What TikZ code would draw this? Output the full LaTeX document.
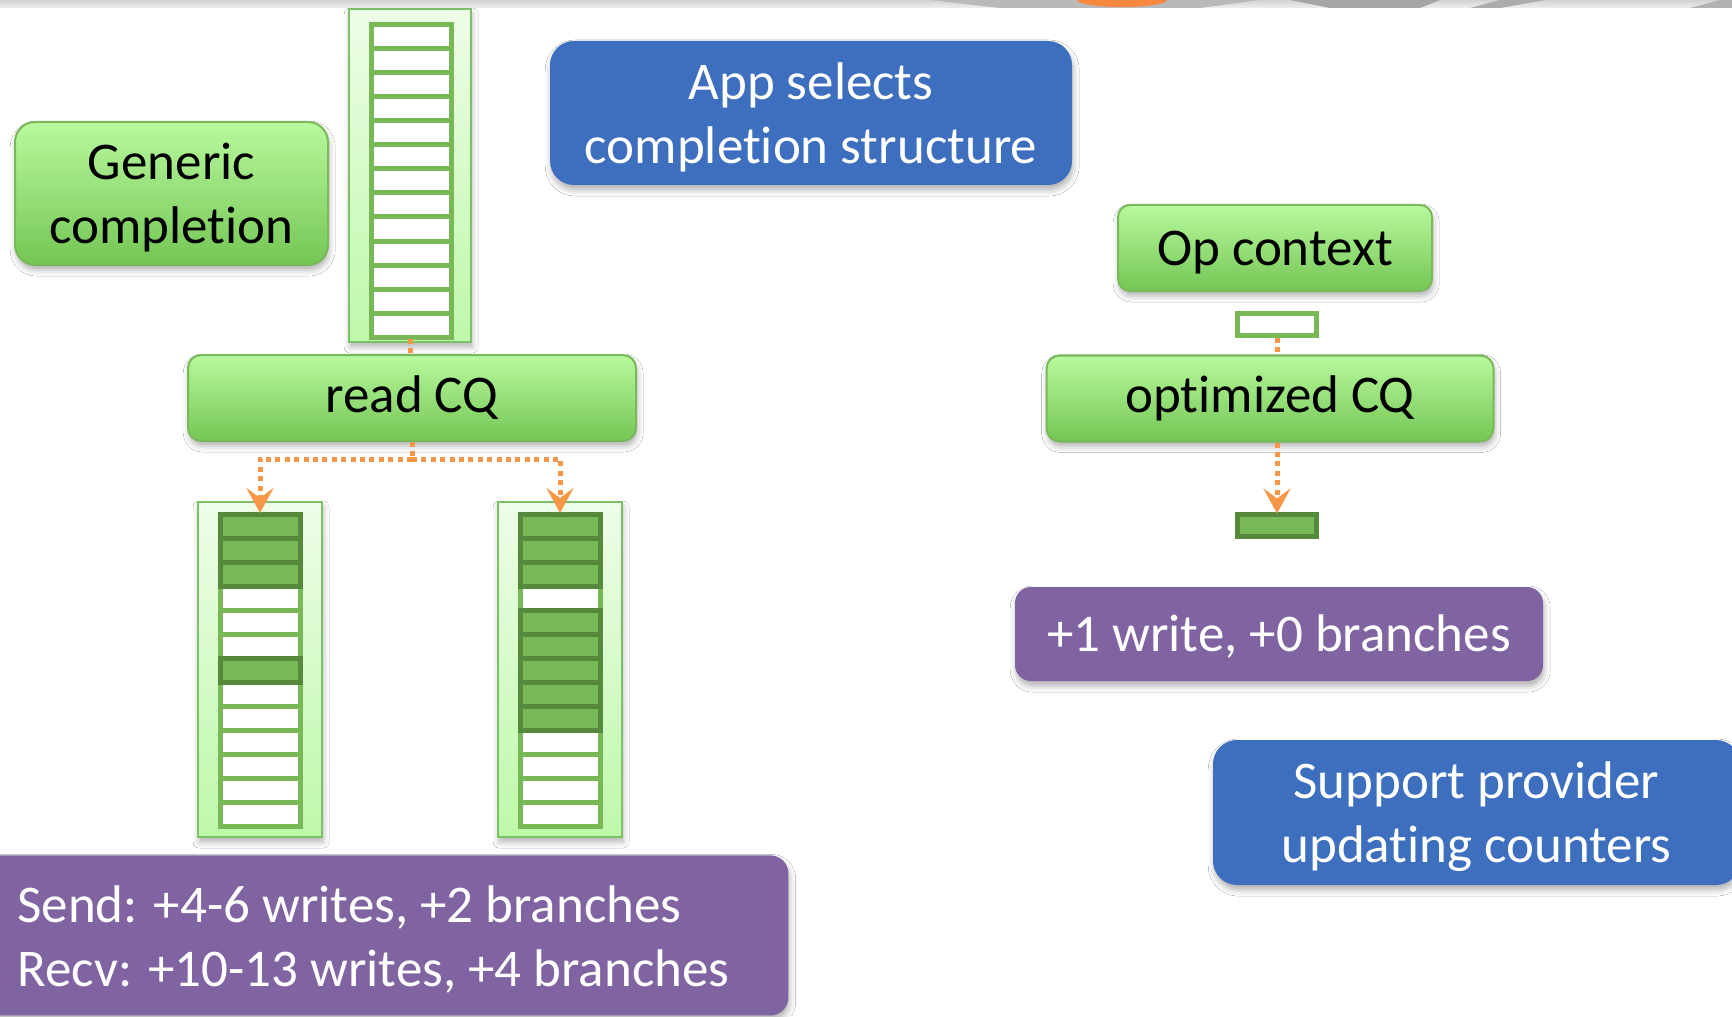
\documentclass[tikz,border=0pt]{standalone}
\usepackage{fontspec}
\setmainfont{Carlito}[Ligatures=NoCommon]
\usetikzlibrary{arrows.meta,shadows.blur}

\definecolor{boxtop}{RGB}{184,249,158}
\definecolor{boxbot}{RGB}{116,198,84}
\definecolor{boxedge}{RGB}{122,184,92}
\definecolor{colTop}{RGB}{238,253,232}
\definecolor{colBot}{RGB}{190,248,170}
\definecolor{colEdge}{RGB}{124,192,104}
\definecolor{slotgreen}{RGB}{121,184,87}
\definecolor{slotdark}{RGB}{85,137,60}
\definecolor{notebl}{RGB}{61,111,190}
\definecolor{costpu}{RGB}{128,100,162}
\definecolor{linkor}{RGB}{247,150,70}

% empty ring of 13 slots: left x, right x, top y (line centres)
\newcommand\cqslots[3]{%
  \fill[white] (#1,#3) rectangle (#2,#3+312);
  \foreach \k in {1,...,12} \draw[slotline] (#1,#3+24*\k) -- (#2,#3+24*\k);
  \draw[slotline] (#1,#3) rectangle (#2,#3+312);
}
% occupied slots #4..#5 of a ring
\newcommand\cqfill[5]{%
  \foreach \k in {#4,...,#5} {
    \fill[slotgreen] (#1,#3+24*\k-24) rectangle (#2,#3+24*\k);
    \draw[slotfull] (#1,#3+24*\k-24) rectangle (#2,#3+24*\k);
  }
}

\tikzset{
  txt/.style={font=\fontsize{26.5}{32}\selectfont},
  lowline/.style={text height=23pt, text depth=5.5pt},
  softshadow/.style={blur shadow={shadow xshift=0.6pt, shadow yshift=-2.5pt,
      shadow blur radius=3pt, shadow opacity=30}},
  greenbox/.style={txt, draw=boxedge, line width=1pt, top color=boxtop,
      bottom color=boxbot, rounded corners=6.5pt, inner sep=0pt,
      align=center, text=black, softshadow},
  bluebox/.style={txt, fill=notebl, rounded corners=12pt, inner sep=0pt,
      align=center, text=white, softshadow},
  purplebox/.style={txt, fill=costpu, rounded corners=8pt, inner sep=0pt,
      text=white, softshadow},
  colbox/.style={draw=colEdge, line width=1pt, top color=colTop,
      bottom color=colBot, inner sep=0pt, softshadow},
  slotline/.style={draw=slotgreen, line width=2.5pt},
  slotfull/.style={draw=slotdark, line width=2.5pt},
  slotempty/.style={fill=white, draw=slotgreen, line width=2.5pt, inner sep=0pt,
      minimum width=39.5pt, minimum height=11pt},
  slotused/.style={fill=slotgreen, draw=slotdark, line width=2.5pt, inner sep=0pt,
      minimum width=39.5pt, minimum height=11pt},
  link/.style={draw=linkor, line width=2.5pt, dash pattern=on 2.5pt off 2.2pt},
  linkarrow/.style={link, -{Stealth[length=12.5pt,width=13.5pt,inset=5pt]}},
}

\begin{document}
\begin{tikzpicture}[x=0.5pt, y=-0.5pt]
\useasboundingbox (0,0) rectangle (1732,1016);
\fill[white] (0,0) rectangle (1732,1016);

% header strip
\begin{scope}
  \clip (0,0) rectangle (1732,8);
  \shade[top color=gray!35, bottom color=gray!12] (0,0) rectangle (1732,8);
  \fill[gray!55] (930,0) -- (1260,0) -- (1200,8) -- (1000,8) -- cycle;
  \fill[linkor!90!red] (1122,0) ellipse (45 and 7);
  \fill[gray!70] (1290,0) -- (1440,0) -- (1420,8) -- (1330,8) -- cycle;
  \fill[gray!65] (1500,0) -- (1545,0) -- (1500,8) -- (1470,8) -- cycle;
  \fill[gray!60] (1720,0) -- (1732,0) -- (1732,8) -- (1690,8) -- cycle;
\end{scope}

% generic completion ring
\node[colbox, minimum width=61pt, minimum height=166.5pt] (ringTop) at (410,175.5) {};
\cqslots{371.5}{451.5}{25}

\node[greenbox, rounded corners=10pt, minimum width=156.5pt, minimum height=71.5pt]
  (generic) at (171.5,193.5) {\strut Generic\\completion};
\node[bluebox, minimum width=261pt, minimum height=72pt]
  (appsel) at (811,113) {\strut App selects\\completion structure};
\node[greenbox, minimum width=224pt, minimum height=43pt]
  (readcq) at (412,398) {read CQ};

% per-queue rings
\node[colbox, minimum width=62pt, minimum height=167.5pt] (ringSend) at (260,669.5) {};
\cqslots{220}{300}{514}
\cqfill{220}{300}{514}{1}{3}
\cqfill{220}{300}{514}{7}{7}

\node[colbox, minimum width=62pt, minimum height=167.5pt] (ringRecv) at (560,669.5) {};
\cqslots{520}{600}{514}
\cqfill{520}{600}{514}{1}{3}
\cqfill{520}{600}{514}{5}{9}

\node[purplebox, anchor=north west, rounded corners=9pt, minimum width=404pt,
  minimum height=80pt] (genericCost) at (-20,855) {};
\node[txt, text=white, anchor=west, align=left, inner sep=0pt]
  (genericCostText) at (17,939) {Send: +4-6 writes, +2 branches\\Recv: +10-13 writes, +4 branches};

% optimized path
\node[greenbox, lowline, rounded corners=6pt, minimum width=157pt, minimum height=43pt]
  (opctx) at (1275,248) {Op context};
\node[slotempty] (ctxSlot) at (1277,324.5) {};
\node[greenbox, minimum width=223.5pt, minimum height=43pt]
  (optcq) at (1270,398.5) {optimized CQ};
\node[slotused] (doneSlot) at (1277,525) {};
\node[purplebox, lowline, minimum width=264pt, minimum height=47pt]
  (optCost) at (1279,634) {+1 write, +0 branches};
\node[bluebox, minimum width=263.5pt, minimum height=72.5pt]
  (support) at (1476.5,812.5) {\strut Support provider\\updating counters};

% connectors
\coordinate (split) at (412,459);
\coordinate (tipSend) at (260,513);
\coordinate (tipRecv) at (560,513);
\draw[link] ([yshift=2pt]ringTop.south) -- (ringTop.south |- readcq.north);
\draw[link] (readcq.south) -- (split);
\draw[linkarrow] (split) -| (tipSend);
\draw[linkarrow] (split) -| (tipRecv);
\draw[link] (ctxSlot.south) -- (ctxSlot.south |- optcq.north);
\draw[linkarrow] (doneSlot.north |- optcq.south) -- ([yshift=-1pt]doneSlot.north);
\end{tikzpicture}
\end{document}
